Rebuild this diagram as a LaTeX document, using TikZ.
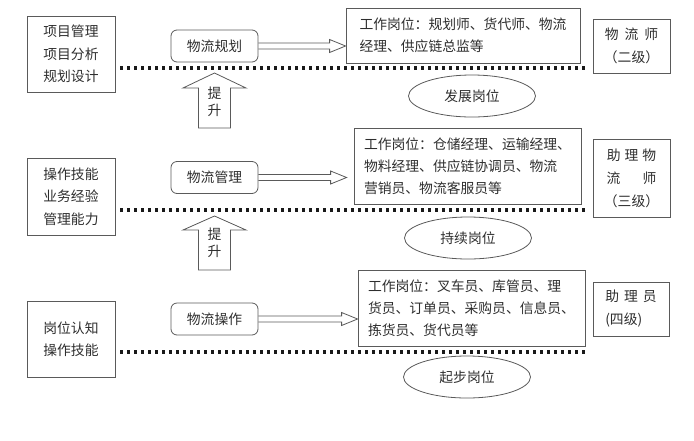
\documentclass[tikz,border=0pt]{standalone}
\usepackage{fontspec}
\setmainfont{Noto Sans CJK SC}
\usepackage{xcolor}
\usetikzlibrary{shapes.geometric, calc, positioning}
\definecolor{linegray}{HTML}{5A5A5A}
\definecolor{txtgray}{HTML}{2E2E2E}
\tikzset{
  skillbox/.style={
    rectangle, draw=linegray, line width=0.8pt, text=txtgray,
    minimum width=88pt, minimum height=76pt, align=left, inner sep=0pt,
    font=\fontsize{13.8}{22.5}\selectfont
  },
  areabox/.style={
    rectangle, rounded corners=6pt, draw=linegray, line width=0.8pt, text=txtgray,
    minimum width=87pt, minimum height=32pt, inner sep=0pt,
    font=\fontsize{13.8}{22.5}\selectfont
  },
  jobbox/.style={
    rectangle, draw=linegray, line width=0.8pt, text=txtgray,
    minimum width=227pt, minimum height=76pt, align=left, inner sep=0pt,
    font=\fontsize{13.8}{22}\selectfont
  },
  levelbox/.style={
    rectangle, draw=linegray, line width=0.8pt, text=txtgray,
    minimum width=77pt, minimum height=54pt, align=center, inner sep=0pt,
    font=\fontsize{13.8}{23}\selectfont
  },
  stage/.style={
    ellipse, draw=linegray, line width=0.8pt, text=txtgray,
    minimum width=127pt, minimum height=42pt, inner sep=0pt,
    font=\fontsize{13.8}{22}\selectfont
  },
  lifttext/.style={
    text=txtgray, align=center, inner sep=0pt,
    font=\fontsize{13.8}{16.5}\selectfont
  },
  tierline/.style={draw=black!90, line width=3.2pt, dash pattern=on 3.2pt off 3.8pt},
  liftline/.style={draw=linegray, line width=0.8pt},
  fatarrow/.style={draw=linegray, line width=0.8pt, to path={
    let \p1=(\tikztostart), \p2=(\tikztotarget) in
    (\x1,\y1+3) -- (\x2-16,\y1+3) -- (\x2-16,\y1+6.5) -- (\x2,\y1)
    -- (\x2-16,\y1-6.5) -- (\x2-16,\y1-3) -- (\x1,\y1-3)}},
}

\begin{document}
\begin{tikzpicture}[x=1pt, y=-1pt]
    \useasboundingbox (0,0) rectangle (694,440);

    % top tier
    \node[skillbox] (skill1) at (71,54) {项目管理\\项目分析\\规划设计};
    \node[areabox] (area1) at (214.5,46) {物流规划};
    \node[jobbox, minimum width=234pt, minimum height=55pt] (job1) at (463,35.5)
      {工作岗位：规划师、货代师、物流\\经理、供应链总监等};
    \node[levelbox] (level1) at (631.5,46) {物\hspace{6pt}流\hspace{6pt}师\\（二级）};
    \draw[tierline] (120,68) -- (585,68);
    \node[stage] (stage1) at (472,96) {发展岗位};
    \draw[fatarrow] (area1.east) to (job1.west |- area1.east);

    % lift between tiers
    \coordinate (liftbase1) at (214.5,128);
    \draw[liftline] (liftbase1) ++(-16,0) -- ++(0,-40) -- ++(-15.5,0) -- ++(31.5,-15)
      -- ++(31.5,15) -- ++(-15.5,0) -- ++(0,40) -- cycle;
    \node[lifttext] (lift1) at (214.5,102) {提\\升};

    % middle tier
    \node[skillbox, minimum height=77pt] (skill2) at (71,196.5) {操作技能\\业务经验\\管理能力};
    \node[areabox] (area2) at (214.5,177.5) {物流管理};
    \node[jobbox] (job2) at (467.5,166)
      {工作岗位：仓储经理、运输经理、\\物料经理、供应链协调员、物流\\营销员、物流客服员等};
    \node[levelbox, minimum height=78pt] (level2) at (631.5,178)
      {助\hspace{4pt}理\hspace{4pt}物\\\makebox[50pt]{流\hfill 师}\\（三级）};
    \draw[tierline] (120,210) -- (585,210);
    \node[stage] (stage2) at (468,238) {持续岗位};
    \draw[fatarrow] (area2.east) to ($(job2.west |- area2.east)+(-7,0)$);

    \coordinate (liftbase2) at (214.5,270);
    \draw[liftline] (liftbase2) ++(-16,0) -- ++(0,-40) -- ++(-15.5,0) -- ++(31.5,-14)
      -- ++(31.5,14) -- ++(-15.5,0) -- ++(0,40) -- cycle;
    \node[lifttext] (lift2) at (214.5,243) {提\\升};

    % bottom tier
    \node[skillbox] (skill3) at (71,339) {岗位认知\\操作技能};
    \node[areabox] (area3) at (214.5,319) {物流操作};
    \node[jobbox] (job3) at (471.5,308)
      {工作岗位：叉车员、库管员、理\\货员、订单员、采购员、信息员、\\拣货员、货代员等};
    \node[levelbox, align=left, minimum width=76pt] (level3) at (631,309)
      {助\hspace{5pt}理\hspace{5pt}员\\(四级)};
    \draw[tierline] (120,352) -- (585,352);
    \node[stage] (stage3) at (467,377) {起步岗位};
    \draw[fatarrow] (area3.east) to (job3.west |- area3.east);
\end{tikzpicture}
\end{document}
